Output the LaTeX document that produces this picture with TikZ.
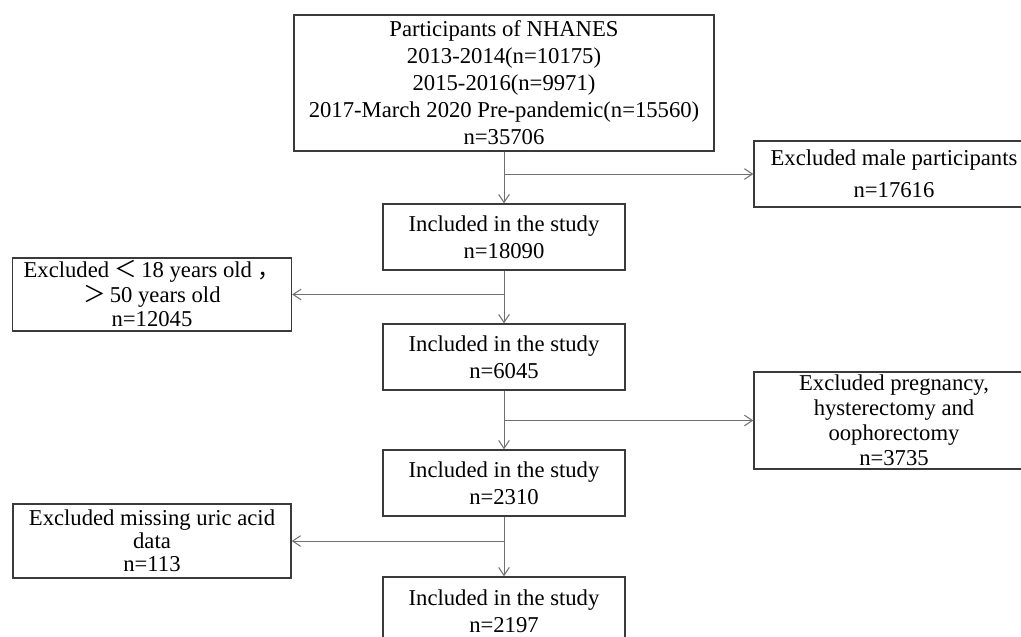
\documentclass[tikz,border=0pt]{standalone}
\usepackage{fontspec}
\setmainfont{Liberation Serif}
\newfontfamily\cjk{Noto Sans CJK SC}
\usetikzlibrary{arrows.meta}
\definecolor{boxline}{HTML}{3A3A3A}
\definecolor{arrline}{HTML}{707070}
\begin{document}
\begin{tikzpicture}[x=0.75pt,y=-0.75pt,
  flowbox/.style={draw=boxline, line width=1.1pt, align=center, inner sep=0pt,
    font=\fontsize{17}{20.25}\selectfont},
  flowarr/.style={draw=arrline, line width=0.75pt, -{Straight Barb[length=6pt,width=8pt]}}]
\useasboundingbox (0,0) rectangle (1021,636);
% main column
\node[flowbox, minimum width=315pt, minimum height=102pt] (nhanes) at (504,83)
  {Participants of NHANES\\2013-2014(n=10175)\\2015-2016(n=9971)\\2017-March 2020 Pre-pandemic(n=15560)\\n=35706};
\node[flowbox, minimum width=181.5pt, minimum height=49.5pt] (incl1) at (504,237)
  {Included in the study\\n=18090};
\node[flowbox, minimum width=181.5pt, minimum height=49.5pt] (incl2) at (504,357)
  {Included in the study\\n=6045};
\node[flowbox, minimum width=181.5pt, minimum height=49.5pt] (incl3) at (504,483)
  {Included in the study\\n=2310};
\node[flowbox, minimum width=181.5pt, minimum height=51pt] (incl4) at (504,611)
  {Included in the study\\n=2197};
% excluded boxes
\node[flowbox, font=\fontsize{17}{24}\selectfont, minimum width=210pt, minimum height=49.5pt] (male) at (894,174)
  {Excluded male participants\\n=17616};
\node[flowbox, font=\fontsize{17}{18.5}\selectfont, minimum width=209.25pt, minimum height=54.75pt] (age) at (152,294.5)
  {Excluded \smash{\cjk ＜}\,18 years old \smash{\cjk ，}\\\smash{\cjk ＞}\,50 years old\\n=12045};
\node[flowbox, font=\fontsize{17}{18.75}\selectfont, minimum width=210pt, minimum height=72.75pt] (preg) at (894,420.5)
  {Excluded pregnancy,\\hysterectomy and\\oophorectomy\\n=3735};
\node[flowbox, font=\fontsize{17}{17.25}\selectfont, minimum width=208.5pt, minimum height=55.5pt] (uric) at (152,541)
  {Excluded missing uric acid\\data\\n=113};
% connectors
\coordinate (b1) at (nhanes.south |- male.west);
\coordinate (b2) at (incl1.south |- age.east);
\coordinate (b3) at (incl2.south |- preg.west);
\coordinate (b4) at (incl3.south |- uric.east);
\draw[flowarr] (nhanes.south) -- (incl1.north);
\draw[flowarr] (b1) -- (male.west);
\draw[flowarr] (incl1.south) -- (incl2.north);
\draw[flowarr] (b2) -- (age.east);
\draw[flowarr] (incl2.south) -- (incl3.north);
\draw[flowarr] (b3) -- (preg.west);
\draw[flowarr] (incl3.south) -- (incl4.north);
\draw[flowarr] (b4) -- (uric.east);
\end{tikzpicture}
\end{document}
